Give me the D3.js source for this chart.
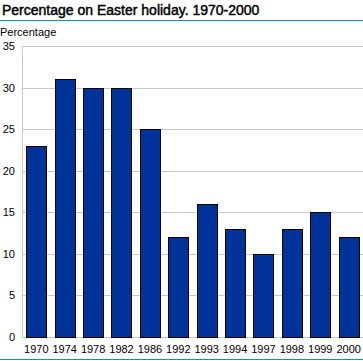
<!DOCTYPE html>
<html>
<head>
<meta charset="utf-8">
<script src="https://cdn.jsdelivr.net/npm/d3@7"></script>
<style>
  body { margin: 0; background: #fff; }
  svg { display: block; font-family: "Liberation Sans", Arial, sans-serif; }
</style>
</head>
<body>
<div id="chart"></div>
<script>
// Years and percentages
const years = ["1970", "1974", "1978", "1982", "1986", "1992", "1993", "1994", "1997", "1998", "1999", "2000"];
const percentages = [23, 31, 30, 30, 25, 12, 16, 13, 10, 13, 15, 12];
const yTicks = [0, 5, 10, 15, 20, 25, 30, 35];

const width = 363, height = 361;
const margin = { top: 46, right: 0, bottom: 24, left: 22 };

const svg = d3.select("#chart").append("svg")
    .attr("width", width)
    .attr("height", height);

// Title and teal rules
svg.append("text")
    .attr("x", 2).attr("y", 15)
    .attr("font-size", 14)
    .attr("fill", "#000")
    .attr("stroke", "#000").attr("stroke-width", 0.45)
    .text("Percentage on Easter holiday. 1970-2000");

svg.append("line")
    .attr("x1", 0).attr("x2", width)
    .attr("y1", 20.5).attr("y2", 20.5)
    .attr("stroke", "#00a096").attr("stroke-width", 1);

svg.append("line")
    .attr("x1", 0).attr("x2", width)
    .attr("y1", 359.5).attr("y2", 359.5)
    .attr("stroke", "#00a096").attr("stroke-width", 1);

svg.append("text")
    .attr("x", 0).attr("y", 36)
    .attr("font-size", 11).attr("fill", "#000")
    .text("Percentage");

const x = d3.scaleBand()
    .domain(years)
    .range([margin.left, width - margin.right])
    .paddingInner(0.29)
    .paddingOuter(0.15);

const y = d3.scaleLinear()
    .domain([0, 35])
    .range([height - margin.bottom, margin.top]);

// Gridlines
svg.append("g")
    .selectAll("line")
    .data(yTicks)
    .join("line")
    .attr("x1", margin.left).attr("x2", width)
    .attr("y1", d => Math.round(y(d)) + 0.5)
    .attr("y2", d => Math.round(y(d)) + 0.5)
    .attr("stroke", "#c8c8c8");

// Left axis line
svg.append("line")
    .attr("x1", margin.left + 0.5).attr("x2", margin.left + 0.5)
    .attr("y1", y(35)).attr("y2", y(0))
    .attr("stroke", "#c8c8c8");

// Y tick labels
svg.append("g")
    .selectAll("text")
    .data(yTicks)
    .join("text")
    .attr("x", 15)
    .attr("y", d => y(d) + 4)
    .attr("text-anchor", "end")
    .attr("font-size", 11)
    .attr("fill", "#000")
    .text(d => d);

// Bars
svg.append("g")
    .selectAll("rect")
    .data(percentages)
    .join("rect")
    .attr("x", (d, i) => Math.round(x(years[i])) + 0.5)
    .attr("y", d => Math.round(y(d)) + 0.5)
    .attr("width", Math.round(x.bandwidth()))
    .attr("height", d => Math.round(y(0)) - Math.round(y(d)))
    .attr("fill", "#003399")
    .attr("stroke", "#000")
    .attr("stroke-width", 1);

// X tick labels
svg.append("g")
    .selectAll("text")
    .data(years)
    .join("text")
    .attr("x", d => x(d) + x.bandwidth() / 2)
    .attr("y", height - 8)
    .attr("text-anchor", "middle")
    .attr("font-size", 11)
    .attr("fill", "#000")
    .text(d => d);
</script>
</body>
</html>
